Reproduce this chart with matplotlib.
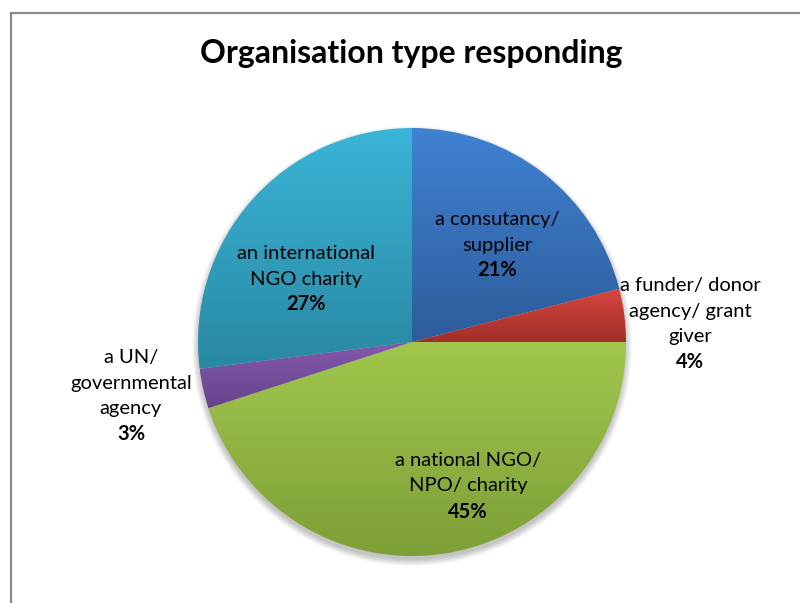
import matplotlib.pyplot as plt
import matplotlib.colors as mcolors
from matplotlib.patches import Circle
import numpy as np

plt.rcParams['font.family'] = ['Lato', 'DejaVu Sans']

# survey shares, clockwise from 12 o'clock
labels = ["a consutancy/\nsupplier", "a funder/ donor\nagency/ grant\ngiver",
          "a national NGO/\nNPO/ charity", "a UN/\ngovernmental\nagency",
          "an international\nNGO charity"]
shares = [21, 4, 45, 3, 27]
# (light top, dark bottom) per slice
tops = ["#3f82d2", "#d8463e", "#a1c74d", "#8459ac", "#3ab5d8"]
bottoms = ["#2d5c9a", "#a02f29", "#7d9f37", "#66448c", "#2988a2"]

# label centres in pixels (x, y from top)
label_pos = [(497, 245), (690, 324), (468, 486), (131, 396), (306, 279)]

W, H = 800, 603
fig = plt.figure(figsize=(8, 6.03), dpi=100)
ax = fig.add_axes([0, 0, 1, 1])

cx, cy, r = 412, H - 342, 214

# soft shadow under the pie
for i in range(12):
    ax.add_patch(Circle((cx, cy - 4), r + 6 - i * 0.6, color='black',
                        alpha=0.018, lw=0, zorder=1))

wedges, _ = ax.pie(shares, startangle=90, counterclock=False,
                   center=(cx, cy), radius=r, frame=True,
                   wedgeprops=dict(linewidth=0))

# vertical gradient fill inside each slice
for w, c1, c2 in zip(wedges, tops, bottoms):
    w.set_facecolor('none')
    bb = w.get_path().get_extents(w.get_transform())
    bb = bb.transformed(ax.transData.inverted())
    cmap = mcolors.LinearSegmentedColormap.from_list('g', [c2, c1])
    grad = np.linspace(0, 1, 256).reshape(-1, 1)
    im = ax.imshow(grad, cmap=cmap, origin='lower', aspect='auto',
                   extent=(bb.x0, bb.x1, bb.y0, bb.y1), zorder=2)
    im.set_clip_path(w)

ax.set_xlim(0, W)
ax.set_ylim(0, H)
ax.set_aspect('equal')
ax.axis('off')

step = 25.5
for lab, s, (x, y) in zip(labels, shares, label_pos):
    n = lab.count('\n') + 1
    top = (H - y) + n * step / 2
    for k, line in enumerate(lab.split('\n')):
        ax.text(x, top - k * step, line, ha='center', va='center',
                fontsize=14.5, color='black', zorder=5)
    ax.text(x, top - n * step, f"{s}%", ha='center', va='center',
            fontsize=14.5, fontweight='bold', color='black', zorder=5)

ax.text(411, H - 53, "Organisation type responding", ha='center',
        va='center', fontsize=23, fontweight='bold', color='black')

# chart frame
ax.plot([11, 11, W + 5], [-5, H - 13, H - 13], color='#8a8a8a', lw=1.6,
        solid_joinstyle='miter')

fig.savefig('out.png', dpi=100)
